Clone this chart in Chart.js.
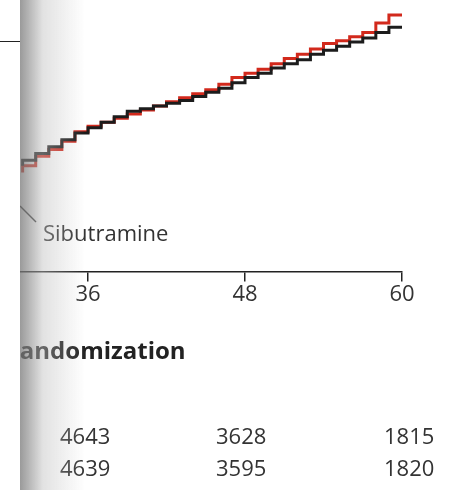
<!DOCTYPE html>
<html><head><meta charset="utf-8">
<script src="https://cdn.jsdelivr.net/npm/chart.js@4/dist/chart.umd.min.js"></script>
<style>
body{margin:0;width:462px;height:490px;background:#fff;position:relative;overflow:hidden;font-family:"Open Sans",sans-serif;color:#333}
#wrap{position:absolute;left:0;top:0;width:462px;height:308px}
.fold{position:absolute;left:20px;top:0;width:65px;height:490px;background:linear-gradient(to right,rgba(120,120,120,0.75),rgba(190,190,190,0.45) 35%,rgba(255,255,255,0));pointer-events:none}
.t{position:absolute;font-size:22px;white-space:nowrap}
</style></head><body>
<div id="wrap"><canvas id="c"></canvas></div>
<div style="position:absolute;left:0;top:41px;width:20px;border-top:1.5px solid #222"></div>
<div class="t" style="left:-4px;top:-14px;font-size:13px;color:#888">es</div>
<svg style="position:absolute;left:0;top:0" width="462" height="490"><line x1="20" y1="206" x2="36" y2="222" stroke="#333" stroke-width="1.5"/></svg>
<div class="t" style="left:43px;top:217px">Sibutramine</div>
<div class="t" style="left:4px;top:333px;font-weight:bold;font-size:24px;color:#222">Randomization</div>
<div class="t" style="left:60px;top:420px">4643</div>
<div class="t" style="left:216px;top:420px">3628</div>
<div class="t" style="left:384px;top:420px">1815</div>
<div class="t" style="left:60px;top:452px">4639</div>
<div class="t" style="left:216px;top:452px">3595</div>
<div class="t" style="left:384px;top:452px">1820</div>
<div style="position:absolute;left:0;top:50px;width:20px;height:440px;background:#fff"></div>
<div class="fold"></div>
<script>
const months = [31,32,33,34,35,36,37,38,39,40,41,42,43,44,45,46,47,48,49,50,51,52,53,54,55,56,57,58,59,60];
const redValues = [7.3,7.8,8.5,9.0,9.6,10.3,10.7,11.0,11.3,11.6,11.9,12.2,12.5,12.8,13.1,13.4,13.8,14.3,14.6,14.9,15.3,15.7,16.0,16.4,16.8,17.0,17.3,17.6,18.3,18.9];
const blackValues = [7.8,8.2,8.7,9.2,9.7,10.2,10.6,11.0,11.4,11.8,12.0,12.2,12.4,12.6,12.9,13.2,13.5,13.9,14.3,14.6,15.0,15.3,15.6,16.0,16.3,16.6,16.9,17.2,17.6,18.0];
const tickLabels = [36,48,60];

const toPts = vals => vals.map((v, i) => ({x: months[i], y: v}));

new Chart(document.getElementById('c'), {
    type: 'line',
    data: {
        datasets: [
            {data: toPts(blackValues), borderColor: '#1c1c1c', borderWidth: 3, stepped: 'after', pointRadius: 0, fill: false},
            {data: toPts(redValues), borderColor: '#d2291c', borderWidth: 3, stepped: 'after', pointRadius: 0, fill: false}
        ]
    },
    options: {
        responsive: true,
        maintainAspectRatio: false,
        animation: false,
        layout: {padding: {left: 20, right: 60, top: 0, bottom: 0}},
        plugins: {legend: {display: false}, tooltip: {enabled: false}},
        scales: {
            x: {
                type: 'linear', min: 30.8, max: 60,
                afterBuildTicks: ax => { ax.ticks = tickLabels.map(v => ({value: v})); },
                grid: {drawOnChartArea: false, drawTicks: true, tickLength: 10, color: '#222', lineWidth: 1.5},
                border: {display: true, color: '#222', width: 1.5},
                ticks: {color: '#333', font: {family: 'Open Sans', size: 22}, padding: 0, maxRotation: 0}
            },
            y: {display: false, min: 0, max: 20}
        }
    }
});
</script>
</body></html>
